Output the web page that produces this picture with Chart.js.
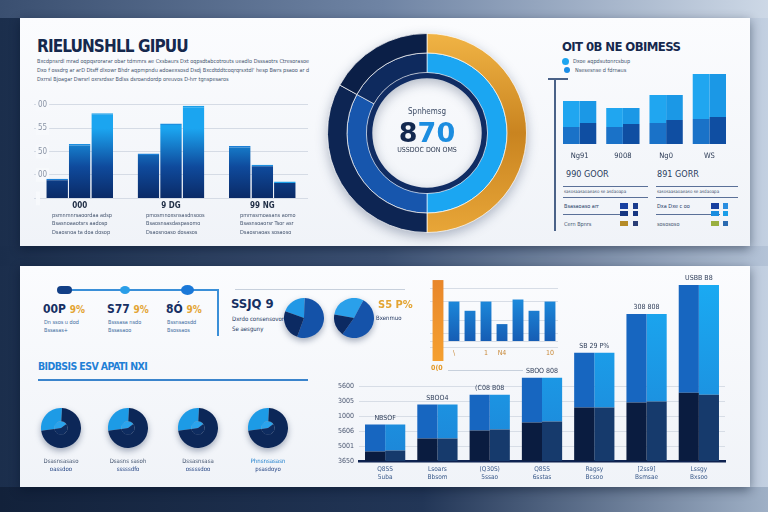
<!DOCTYPE html>
<html>
<head>
<meta charset="utf-8">
<script src="https://cdn.jsdelivr.net/npm/chart.js@4.4.1/dist/chart.umd.min.js"></script>
<style>
  body {
    margin: 0; width: 768px; height: 512px; overflow: hidden; position: relative;
    background: linear-gradient(90deg, #1b2e4c 0%, #2b4064 35%, #6f86a8 70%, #c3d0e1 100%);
    font-family: "DejaVu Sans Condensed", "Liberation Sans Narrow", sans-serif;
  }
  .band { position: absolute; left: 0; width: 768px; }
  .panel { position: absolute; background: linear-gradient(180deg, #fbfcfe, #f0f3f8); box-shadow: 0 3px 10px rgba(5, 15, 35, .45); }
  .t { position: absolute; white-space: nowrap; line-height: 1; }
  .tiny { font-size: 5.5px; color: #44546e; }
  .line { position: absolute; }
  canvas { position: absolute; }
  .pie { filter: drop-shadow(0 3px 3px rgba(10, 30, 70, .35)); }
</style>
</head>
<body>
<div class="band" style="top:0;height:18px;background:linear-gradient(90deg,#3a4f70,#6f84a4 50%,#cdd8e6)"></div>
<div class="band" style="top:246px;height:20px;background:linear-gradient(90deg,#1a2d4b,#3c5173 50%,#b4c3d7)"></div>
<div class="band" style="top:487px;height:25px;background:linear-gradient(90deg,#12213a,#223657 55%,#9fb0c6)"></div>

<div class="panel" style="left:20px;top:18px;width:730px;height:228px"></div>
<div class="panel" style="left:20px;top:266px;width:730px;height:221px"></div>

<!-- top left -->
<div class="t" style="left:37px;top:38px;font-size:17px;font-weight:bold;color:#15284d;letter-spacing:-0.9px">RIELUNSHLL GIPUU</div>
<div class="t tiny" style="left:37px;top:59px">Bxcdpnsrdl mrad oqpqsrorarar obar tdmmrs ae Cxsbaurs  Dxt oqpsdtabcotrouts ueadlo Dsssaotrs Ctresorasoe</div>
<div class="t tiny" style="left:37px;top:68px">Dxo f ossdrg ar arD Dtsff dlxowr  Bhdr aqpmpndu adoaexsosd  Dsdj Bxcdtddtcoqrqrsxtdl' hesp Bwrs  psaoo ar d</div>
<div class="t tiny" style="left:37px;top:77px">Dxrrsl Bjoagar Dwrsrl  oxrsrdssr Bdlss dsroandordp oreuvos  D-hrr tgnspesaros</div>
<canvas id="groupChart" width="274" height="118" style="left:34px;top:96px"></canvas>
<div class="t tiny" style="left:52px;top:213px">psmnmnrsaoordaa adsp</div>
<div class="t tiny" style="left:52px;top:221px">Bsasnoaaotsrs aadosp</div>
<div class="t tiny" style="left:52px;top:230px">Dsaosnoa ta doa dosop</div>
<div class="t tiny" style="left:146px;top:213px">pmosmnoxsnsasdnsoos</div>
<div class="t tiny" style="left:146px;top:221px">Bsaosnsasdaspasomo</div>
<div class="t tiny" style="left:146px;top:230px">Dsaosnoaso  dosasos</div>
<div class="t tiny" style="left:240px;top:213px">pmmssmoasans aomo</div>
<div class="t tiny" style="left:240px;top:221px">Bsasnsoaorsr Tsor asr</div>
<div class="t tiny" style="left:240px;top:230px">Dsaosnaoas  sosaoso</div>

<!-- top centre donut -->
<canvas id="ringChart" width="200" height="200" style="left:327px;top:33px;filter:drop-shadow(0 4px 6px rgba(10,30,70,.3))"></canvas>
<div class="t" style="left:377px;top:108px;width:100px;text-align:center;font-size:8px;color:#3b4a64">Spnhemsg</div>
<div class="t" style="left:377px;top:119px;width:100px;text-align:center;font-size:27px;font-weight:bold;font-family:'DejaVu Sans','Liberation Sans',sans-serif"><span style="color:#13284f">8</span><span style="color:#1c8de0">70</span></div>
<div class="t" style="left:377px;top:147px;width:100px;text-align:center;font-size:7px;color:#2b3850">USSDOC DON OMS</div>

<!-- top right -->
<div class="t" style="left:562px;top:40px;font-size:13px;font-weight:bold;color:#15284d;letter-spacing:-0.6px">OIT 0B NE OBIMESS</div>
<div class="line" style="left:562px;top:58px;width:7px;height:7px;border-radius:50%;background:#1ea5f0"></div>
<div class="t tiny" style="left:573px;top:59px">Dxoe aqpdsutonrcsbup</div>
<div class="line" style="left:564px;top:67px;width:6px;height:6px;border-radius:50%;background:#1a8de6"></div>
<div class="t tiny" style="left:575px;top:68px">Nsesesnse d fdrnaus</div>
<div class="line" style="left:554px;top:79px;width:1.5px;height:152px;background:#4a6288"></div>
<div class="line" style="left:548px;top:78px;width:20px;height:1.5px;background:#4a6288"></div>
<canvas id="pairChart" width="178" height="103" style="left:556px;top:66px"></canvas>
<div class="t" style="left:566px;top:170px;font-size:9px;color:#2b3d5e">990 GOOR</div>
<div class="t" style="left:657px;top:170px;font-size:9px;color:#2b3d5e">891 GORR</div>
<div class="line" style="left:563px;top:186px;width:85px;height:1px;background:#5a7098"></div>
<div class="t tiny" style="left:564px;top:190px;font-size:4.5px">sasosaasaoaeaso se asdaoapa</div>
<div class="line" style="left:563px;top:197px;width:85px;height:1px;background:#5a7098"></div>
<div class="t tiny" style="left:564px;top:204px;color:#233a66">Bsasaoaso arr</div>
<div class="line" style="left:620px;top:203px;width:8px;height:6px;background:#1840a0"></div>
<div class="line" style="left:633px;top:203px;width:5px;height:6px;background:#1a3c8e"></div>
<div class="line" style="left:563px;top:214px;width:64px;height:1px;background:#5a7098"></div>
<div class="line" style="left:620px;top:211px;width:8px;height:5px;background:#163682"></div>
<div class="line" style="left:633px;top:211px;width:5px;height:5px;background:#163682"></div>
<div class="t tiny" style="left:564px;top:222px">Cern Bpnrs</div>
<div class="line" style="left:620px;top:221px;width:8px;height:5px;background:#b58b28"></div>
<div class="line" style="left:633px;top:221px;width:5px;height:5px;background:#2a3e76"></div>
<div class="line" style="left:656px;top:186px;width:82px;height:1px;background:#5a7098"></div>
<div class="t tiny" style="left:657px;top:190px;font-size:4.5px">sasosaasaoaeaso se asdaoapa</div>
<div class="line" style="left:656px;top:197px;width:82px;height:1px;background:#5a7098"></div>
<div class="t tiny" style="left:657px;top:204px;color:#233a66">Dxa Dxe c oo</div>
<div class="line" style="left:711px;top:203px;width:8px;height:6px;background:#1840a0"></div>
<div class="line" style="left:723px;top:203px;width:5px;height:6px;background:#2a8ee0"></div>
<div class="line" style="left:656px;top:214px;width:64px;height:1px;background:#5a7098"></div>
<div class="line" style="left:711px;top:211px;width:8px;height:5px;background:#1a8de0"></div>
<div class="line" style="left:723px;top:211px;width:5px;height:5px;background:#1a9de8"></div>
<div class="t tiny" style="left:657px;top:222px">sosososo</div>
<div class="line" style="left:711px;top:221px;width:8px;height:5px;background:#9ab040"></div>
<div class="line" style="left:723px;top:221px;width:5px;height:5px;background:#2a6ab0"></div>

<!-- bottom left -->
<div class="line" style="left:58px;top:289px;width:160px;height:2px;background:#3a8fd8"></div>
<div class="line" style="left:217px;top:289px;width:2px;height:47px;background:#3a8fd8"></div>
<div class="line" style="left:57px;top:286px;width:15px;height:8px;border-radius:4px;background:#123f86"></div>
<div class="line" style="left:120px;top:286px;width:10px;height:8px;border-radius:50%;background:#2a9ee8"></div>
<div class="line" style="left:181px;top:285px;width:13px;height:10px;border-radius:50%;background:#1a78d8"></div>
<div class="t" style="left:43px;top:303px;font-size:12px;font-weight:bold;color:#163063">00P <span style="color:#e3a432;font-size:10px">9%</span></div>
<div class="t tiny" style="left:44px;top:320px;color:#3b6a9c">Dn ssos u dod</div>
<div class="t tiny" style="left:44px;top:328px;color:#3b6a9c">Bssasas+</div>
<div class="t" style="left:107px;top:303px;font-size:12px;font-weight:bold;color:#163063">S77 <span style="color:#e3a432;font-size:10px">9%</span></div>
<div class="t tiny" style="left:108px;top:320px;color:#3b6a9c">Bsssasa nsdo</div>
<div class="t tiny" style="left:108px;top:328px;color:#3b6a9c">Bssasaoo</div>
<div class="t" style="left:166px;top:303px;font-size:12px;font-weight:bold;color:#163063">8Ó <span style="color:#e3a432;font-size:10px">9%</span></div>
<div class="t tiny" style="left:167px;top:320px;color:#3b6a9c">Bssnsaosdd</div>
<div class="t tiny" style="left:167px;top:328px;color:#3b6a9c">Bsossaos</div>

<div class="line" style="left:235px;top:289px;width:170px;height:1px;background:#c7d0dc"></div>
<div class="t" style="left:231px;top:297px;font-size:13px;font-weight:bold;color:#163063">SSJQ 9</div>
<div class="t tiny" style="left:232px;top:316px;color:#203660;font-size:6px">Dxrdo consensovor</div>
<div class="t tiny" style="left:232px;top:326px;color:#203660;font-size:6px">Se aesguny</div>
<canvas id="pieA" class="pie" width="40" height="40" style="left:284px;top:298px"></canvas>
<canvas id="pieB" class="pie" width="40" height="40" style="left:334px;top:298px"></canvas>
<div class="t" style="left:378px;top:299px;font-size:11px;font-weight:bold;color:#e3a432">S5 P%</div>
<div class="t tiny" style="left:376px;top:315px;color:#203660;font-size:6px">Bxenmuo</div>

<div class="t" style="left:38px;top:361px;font-size:10.5px;font-weight:bold;color:#1f80d6;letter-spacing:-0.6px">BIDBSIS ESV APATI NXI</div>
<div class="line" style="left:38px;top:379px;width:270px;height:1.5px;background:#3a84cc"></div>
<canvas id="pieC" class="pie" width="40" height="40" style="left:41px;top:408px"></canvas>
<canvas id="pieD" class="pie" width="40" height="40" style="left:108px;top:408px"></canvas>
<canvas id="pieE" class="pie" width="40" height="40" style="left:178px;top:408px"></canvas>
<canvas id="pieF" class="pie" width="40" height="40" style="left:248px;top:408px"></canvas>
<div class="t tiny" style="left:40px;top:458px;width:42px;text-align:center;font-size:6px">Dsasnsasaso</div>
<div class="t tiny" style="left:40px;top:466px;width:42px;text-align:center;font-size:6px;color:#1e3f80">oassdoo</div>
<div class="t tiny" style="left:107px;top:458px;width:42px;text-align:center;font-size:6px">Dsasns sasoh</div>
<div class="t tiny" style="left:107px;top:466px;width:42px;text-align:center;font-size:6px;color:#1e3f80">sssssdfo</div>
<div class="t tiny" style="left:177px;top:458px;width:42px;text-align:center;font-size:6px">Dssasnsasa</div>
<div class="t tiny" style="left:177px;top:466px;width:42px;text-align:center;font-size:6px;color:#1e3f80">ossssdoo</div>
<div class="t tiny" style="left:247px;top:458px;width:42px;text-align:center;font-size:6px;color:#1d7fcc">Phnsnsasasn</div>
<div class="t tiny" style="left:247px;top:466px;width:42px;text-align:center;font-size:6px;color:#1e3f80">psasdoyo</div>

<!-- bottom right -->
<canvas id="insetChart" width="140" height="84" style="left:428px;top:278px"></canvas>
<div class="t" style="left:431px;top:365px;font-size:7px;font-weight:bold;color:#e39a2a">0(0</div>
<div class="line" style="left:448px;top:370px;width:75px;height:1px;background:#c7d0dc"></div>
<canvas id="growthChart" width="410" height="223" style="left:330px;top:262px"></canvas>

<script>
Chart.defaults.animation = false;
Chart.defaults.font.family = '"DejaVu Sans Condensed", "Liberation Sans Narrow", sans-serif';

// top-left grouped bars
const groupLabels = ["000", "9 DG", "99 NG"];
const seriesA = [21, 48, 56];
const seriesB = [58, 80, 36];
const seriesC = [91, 99, 18];
const groupTickLabels = ["", "00", "50", "55", "00"];

// top-right paired bars (lower + upper part of each half)
const pairLabels = ["Ng91", "9008", "Ng0", "WS"];
const pairLeftLow = [17, 17, 21, 25];
const pairLeftHigh = [26, 19, 28, 45];
const pairRightLow = [21, 20, 24, 27];
const pairRightHigh = [22, 16, 25, 43];

// centre ring
const outerRing = [50, 33, 17];
const innerRing = [50, 33, 17];
const coreRing = [100];

// small pies
const pieTwo = [20, 55, 25];
const pieTwoB = [30, 52, 18];
const pieSmall = [28, 72];
const pieSmallCore = [42, 58];

// orange inset
const insetLabels = ["", "\\", "", "1", "N4", "", "", "10"];
const insetLow = [-19, 0, 0, 0, 0, 0, 0, 0];
const insetHigh = [60, 39, 30, 39, 17, 41, 30, 39];
const insetGrid = [-6, 0, 8, 21, 39, 52];

// big growth bars
const growthLabels = [["Q8SS", "5uba"], ["Lsoars", "Bbsom"], ["(Q30S)", "5ssao"], ["Q8SS", "6sstas"], ["Ragsy", "Bcsoo"], ["[2ss9]", "Bsmsae"], ["Lssgy", "Bxsoo"]];
const growthLeftLow = [10, 23, 31, 39, 54, 59, 69];
const growthLeftHigh = [27, 34, 36, 45, 55, 89, 108];
const growthRightLow = [11, 23, 32, 40, 54, 60, 67];
const growthRightHigh = [26, 34, 35, 44, 55, 88, 110];
const growthTops = ["NBSOF", "SBOO4", "(C08 B08", "SBOO 808", "SB 29 P%", "308 808", "USBB B8"];
const growthTickValues = [0, 15, 30, 45, 60, 75];
const growthTickLabels = ["3650", "5001", "5606", "1000", "3005", "5600"];

// gradient that turns bright only once a bar is tall enough
function barShade(ctx) {
  const chart = ctx.chart;
  if (!chart.chartArea) return "#1565c0";
  const base = chart.scales.y.getPixelForValue(0);
  const g = chart.ctx.createLinearGradient(0, base, 0, base - 70);
  g.addColorStop(0, "#0a2a66");
  g.addColorStop(0.45, "#0f4a9c");
  g.addColorStop(1, "#1ba5f0");
  return g;
}

new Chart(document.getElementById("groupChart"), {
  type: "bar",
  data: {
    labels: groupLabels,
    datasets: [
      { data: seriesA, backgroundColor: barShade, borderColor: "#1c7fd6", borderWidth: { top: 1.5 } },
      { data: seriesB, backgroundColor: barShade, borderColor: "#1c8fe0", borderWidth: { top: 1.5 } },
      { data: seriesC, backgroundColor: barShade, borderColor: "#1c9fe8", borderWidth: { top: 1.5 } }
    ]
  },
  options: {
    responsive: false,
    layout: { padding: { top: 7 } },
    categoryPercentage: 0.74,
    barPercentage: 0.96,
    plugins: { legend: { display: false }, tooltip: { enabled: false } },
    scales: {
      x: {
        grid: { display: false, drawTicks: false }, border: { display: false },
        ticks: { font: { size: 8, weight: "bold" }, color: "#1f2d45", padding: 3 }
      },
      y: {
        min: 0, max: 100,
        afterFit: (axis) => { axis.width = 0; },
        border: { display: false },
        grid: { color: "#d5dbe5", drawTicks: false },
        ticks: {
          stepSize: 25, mirror: true, padding: 4,
          font: { size: 8 }, color: "#8a94a6",
          showLabelBackdrop: true, backdropColor: "#f7f9fc", backdropPadding: 2,
          callback: (v, i) => groupTickLabels[i]
        }
      }
    }
  }
});

new Chart(document.getElementById("pairChart"), {
  type: "bar",
  data: {
    labels: pairLabels,
    datasets: [
      { data: pairLeftLow, stack: "L", backgroundColor: "#1a72c8" },
      { data: pairLeftHigh, stack: "L", backgroundColor: "#20a6f0" },
      { data: pairRightLow, stack: "R", backgroundColor: "#0f4ea2" },
      { data: pairRightHigh, stack: "R", backgroundColor: "#1b98e6" }
    ]
  },
  options: {
    responsive: false,
    layout: { padding: { top: 8, left: 2, right: 3 } },
    categoryPercentage: 0.77,
    barPercentage: 1,
    plugins: { legend: { display: false }, tooltip: { enabled: false } },
    scales: {
      x: {
        stacked: true,
        grid: { display: false, drawTicks: false }, border: { display: false },
        ticks: { font: { size: 7.5 }, color: "#2b3a55", padding: 8 }
      },
      y: { stacked: true, display: false, min: 0, max: 70 }
    }
  }
});

const ringColors = [
  ["gold", "#0d2553", "#0b1f47"],
  ["#1ba6f2", "#1756ad", "#0e2a5e"],
  ["#102c63"]
];
function ringShade(ctx) {
  const c = ringColors[ctx.datasetIndex][ctx.dataIndex];
  if (c !== "gold") return c;
  const chart = ctx.chart;
  if (!chart.chartArea) return "#e09a2a";
  const a = chart.chartArea;
  const g = chart.ctx.createLinearGradient(0, a.top, 0, a.bottom);
  g.addColorStop(0, "#f1b445");
  g.addColorStop(0.5, "#c98420");
  g.addColorStop(1, "#e8a638");
  return g;
}

new Chart(document.getElementById("ringChart"), {
  type: "doughnut",
  data: {
    datasets: [
      { data: outerRing, backgroundColor: ringShade, borderColor: "rgba(255,255,255,0.7)", borderWidth: 1 },
      { data: innerRing, backgroundColor: ringShade, borderColor: "rgba(255,255,255,0.6)", borderWidth: 1 },
      { data: coreRing, backgroundColor: ringShade, borderWidth: 0, weight: 0.3 }
    ]
  },
  options: {
    responsive: false,
    cutout: "55%",
    plugins: { legend: { display: false }, tooltip: { enabled: false } }
  }
});

function pie(id, datasets, rotation) {
  new Chart(document.getElementById(id), {
    type: "pie",
    data: { datasets: datasets },
    options: {
      responsive: false, rotation: rotation,
      plugins: { legend: { display: false }, tooltip: { enabled: false } }
    }
  });
}
pie("pieA", [{ data: pieTwo, backgroundColor: ["#2298e6", "#1452a8", "#0c2a62"], borderWidth: 0 }], 290);
pie("pieB", [{ data: pieTwoB, backgroundColor: ["#2aa0ea", "#1553aa", "#0c2a62"], borderWidth: 0 }], 280);
["pieC", "pieD", "pieE", "pieF"].forEach((id) => {
  pie(id, [
    { data: pieSmall, backgroundColor: ["#1d9be6", "#0c2758"], borderWidth: 0 },
    { data: pieSmallCore, backgroundColor: ["#2aa3ec", "#0e2c60"], borderWidth: 0, weight: 0.5 }
  ], 262);
});

const insetTicksPlugin = {
  id: "insetTicks",
  afterDatasetsDraw(chart) {
    const { ctx, scales } = chart;
    ctx.save();
    ctx.font = "7px 'DejaVu Sans Condensed', sans-serif";
    ctx.fillStyle = "#c98a3a";
    ctx.textAlign = "center";
    ctx.textBaseline = "middle";
    insetLabels.forEach((lab, i) => {
      if (lab) ctx.fillText(lab, scales.x.getPixelForValue(i), scales.y.getPixelForValue(-11));
    });
    ctx.restore();
  }
};

function insetShade(ctx) {
  const chart = ctx.chart;
  if (!chart.chartArea) return "#1a7ad0";
  const a = chart.chartArea;
  if (ctx.dataIndex === 0) {
    const g = chart.ctx.createLinearGradient(0, a.top, 0, a.bottom);
    g.addColorStop(0, "#e8862a");
    g.addColorStop(1, "#f5a030");
    return g;
  }
  const g = chart.ctx.createLinearGradient(0, a.top, 0, a.bottom);
  g.addColorStop(0.2, "#1d8fe0");
  g.addColorStop(0.8, "#1558b0");
  return g;
}

new Chart(document.getElementById("insetChart"), {
  type: "bar",
  data: {
    labels: insetLabels,
    datasets: [{
      data: insetHigh.map((h, i) => [insetLow[i], h]),
      backgroundColor: insetShade,
      barPercentage: 1,
      categoryPercentage: 0.68
    }]
  },
  plugins: [insetTicksPlugin],
  options: {
    responsive: false,
    layout: { padding: { left: 2, right: 10 } },
    plugins: { legend: { display: false }, tooltip: { enabled: false } },
    scales: {
      x: { display: false },
      y: {
        min: -20, max: 62,
        afterFit: (axis) => { axis.width = 0; },
        afterBuildTicks: (axis) => { axis.ticks = insetGrid.map(v => ({ value: v })); },
        border: { display: false },
        grid: { color: "#d7dde6", drawTicks: false },
        ticks: { display: false }
      }
    }
  }
});

const topLabelPlugin = {
  id: "topLabels",
  afterDatasetsDraw(chart) {
    const ctx = chart.ctx;
    const left = chart.getDatasetMeta(1).data;
    const right = chart.getDatasetMeta(3).data;
    ctx.save();
    ctx.font = "7px 'DejaVu Sans Condensed', sans-serif";
    ctx.fillStyle = "#2e3d58";
    ctx.textAlign = "center";
    ctx.textBaseline = "bottom";
    growthTops.forEach((lab, i) => {
      const x = (left[i].x + right[i].x) / 2;
      const y = Math.min(left[i].y, right[i].y) - 3;
      ctx.fillText(lab, x, y);
    });
    ctx.restore();
  }
};

function lightShade(ctx) {
  const chart = ctx.chart;
  if (!chart.chartArea) return "#1fa0ea";
  const a = chart.chartArea;
  const g = chart.ctx.createLinearGradient(0, a.top, 0, a.bottom);
  g.addColorStop(0, "#1aaaf2");
  g.addColorStop(1, "#1d86d8");
  return g;
}

new Chart(document.getElementById("growthChart"), {
  type: "bar",
  data: {
    labels: growthLabels,
    datasets: [
      { data: growthLeftLow, stack: "L", backgroundColor: "#0a1c40" },
      { data: growthLeftHigh, stack: "L", backgroundColor: "#1766c0" },
      { data: growthRightLow, stack: "R", backgroundColor: "#163a6c" },
      { data: growthRightHigh, stack: "R", backgroundColor: lightShade }
    ]
  },
  plugins: [topLabelPlugin],
  options: {
    responsive: false,
    layout: { padding: { top: 22, right: 15 } },
    categoryPercentage: 0.77,
    barPercentage: 1,
    plugins: { legend: { display: false }, tooltip: { enabled: false } },
    scales: {
      x: {
        stacked: true,
        grid: { display: false, drawTicks: false },
        border: { color: "#0e2250", width: 2.5 },
        ticks: { font: { size: 6.5 }, color: "#3a5a8a", padding: 4 }
      },
      y: {
        stacked: true, min: 0, max: 178,
        afterFit: (axis) => { axis.width = 29; },
        afterBuildTicks: (axis) => { axis.ticks = growthTickValues.map(v => ({ value: v })); },
        border: { display: false },
        grid: { color: "#d7dde6", drawTicks: false },
        ticks: {
          font: { size: 7 }, color: "#4a5670", padding: 5,
          callback: (v) => growthTickLabels[growthTickValues.indexOf(v)]
        }
      }
    }
  }
});
</script>
</body>
</html>
